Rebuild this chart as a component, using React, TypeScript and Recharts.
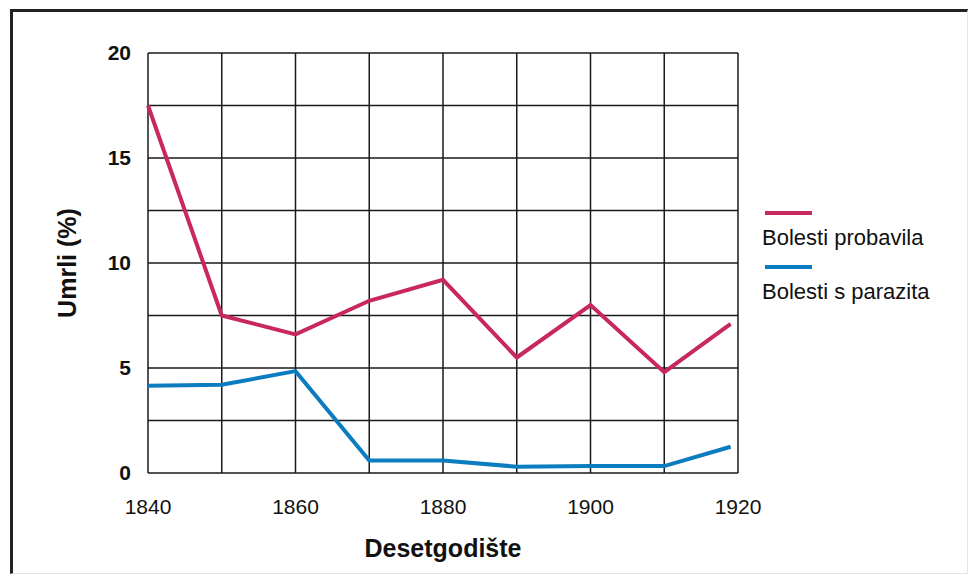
import { LineChart, Line, XAxis, YAxis, CartesianGrid } from 'recharts'

const years = [1840, 1850, 1860, 1870, 1880, 1890, 1900, 1910, 1919]
const probavila = [17.5, 7.5, 6.6, 8.2, 9.2, 5.5, 8.0, 4.8, 7.1]
const parazita = [4.15, 4.2, 4.85, 0.6, 0.6, 0.3, 0.33, 0.33, 1.25]
const xTicks = [1840, 1850, 1860, 1870, 1880, 1890, 1900, 1910, 1920]
const yTicks = [0, 2.5, 5, 7.5, 10, 12.5, 15, 17.5, 20]
const seriesNames = ['Bolesti probavila', 'Bolesti s parazita']
const seriesColors = ['#c8285c', '#0b7cbf']

const font = '"Liberation Sans", Arial, sans-serif'

function LegendBox() {
    return (
        <div style={{ position: 'absolute', left: 762, top: 211, fontFamily: font, fontSize: 22, color: '#111', lineHeight: '26px' }}>
            {seriesNames.map((name, i) => (
                <div key={name} style={{ marginBottom: 14 }}>
                    <div style={{ width: 47, height: 4, background: seriesColors[i], marginLeft: 3, marginBottom: 10 }} />
                    <div>{name}</div>
                </div>
            ))}
        </div>
    )
}

export default function App() {
    const chartData = years.map((year, i) => ({
        year,
        probavila: probavila[i],
        parazita: parazita[i]
    }))

    return (
        <div style={{ position: 'absolute', left: 0, top: 0, width: 972, height: 576, background: '#fff' }}>
            <div style={{
                position: 'absolute', left: 10, top: 9, width: 958, height: 565,
                borderLeft: '3px solid #222', borderTop: '3px solid #222',
                borderRight: '1px solid #e4e4e4', borderBottom: '1px solid #e4e4e4', boxSizing: 'border-box'
            }} />
            <LineChart
                width={972}
                height={576}
                data={chartData}
                margin={{ top: 53, right: 234, bottom: 0, left: 0 }}
                style={{ position: 'absolute', left: 0, top: 0 }}
            >
                <CartesianGrid stroke="#1a1a1a" strokeWidth={1.5} horizontalValues={yTicks} verticalValues={xTicks} />
                <XAxis
                    dataKey="year"
                    type="number"
                    domain={[1840, 1920]}
                    ticks={xTicks}
                    interval={0}
                    axisLine={false}
                    tickLine={false}
                    tickMargin={20}
                    tick={{ fontSize: 21, fill: '#111', fontFamily: font }}
                    tickFormatter={(v) => (v % 20 === 0 ? String(v) : '')}
                    height={103}
                    label={{ value: 'Desetgodište', position: 'insideBottom', offset: 19, style: { fontSize: 25, fontWeight: 'bold', fill: '#111', fontFamily: font } }}
                />
                <YAxis
                    type="number"
                    domain={[0, 20]}
                    ticks={yTicks}
                    interval={0}
                    width={148}
                    axisLine={false}
                    tickLine={false}
                    tickMargin={11}
                    tick={{ fontSize: 21, fontWeight: 'bold', fill: '#111', fontFamily: font }}
                    tickFormatter={(v) => (v % 5 === 0 ? String(v) : '')}
                    label={{ value: 'Umrli (%)', angle: -90, position: 'insideLeft', offset: 67, style: { fontSize: 25, fontWeight: 'bold', fill: '#111', fontFamily: font, textAnchor: 'middle' } }}
                />
                <Line type="linear" dataKey="probavila" name={seriesNames[0]} stroke={seriesColors[0]} strokeWidth={4} dot={false} isAnimationActive={false} />
                <Line type="linear" dataKey="parazita" name={seriesNames[1]} stroke={seriesColors[1]} strokeWidth={4} dot={false} isAnimationActive={false} />
            </LineChart>
            <LegendBox />
        </div>
    )
}
